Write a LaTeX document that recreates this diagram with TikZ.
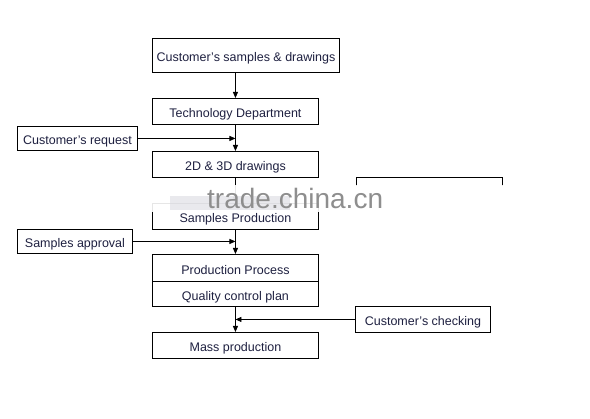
\documentclass[tikz,border=0pt]{standalone}
\usepackage{fontspec}
\setmainfont{Liberation Sans}
\usetikzlibrary{arrows.meta}
\definecolor{txt}{HTML}{1E2040}
\definecolor{wm}{HTML}{8E8E8E}
\begin{document}
\begin{tikzpicture}[x=1pt,y=-1pt,
  box/.style={draw=black,line width=0.9pt,inner sep=0pt,text=txt,font=\fontsize{12.5}{14}\selectfont,anchor=north west,text height=12.4pt,text depth=0pt},
  arr/.style={line width=0.9pt,-{Triangle[length=6pt,width=5pt]}},
  ln/.style={line width=0.9pt}]
\useasboundingbox (0,0) rectangle (590,419);
\fill[white] (0,0) rectangle (590,419);
\node[box,minimum width=187pt,minimum height=34pt] (b1) at (152,38) {Customer's samples \& drawings};
\node[box,minimum width=166pt,minimum height=26pt] (b2) at (152,98) {Technology Department};
\node[box,minimum width=120pt,minimum height=24pt] (req) at (17,126) {Customer's request};
\node[box,minimum width=166pt,minimum height=26pt] (b3) at (152,151) {2D \& 3D drawings};
\node[box,minimum width=166pt,minimum height=26pt] (b4) at (152,203) {Samples Production};
\node[box,minimum width=115pt,minimum height=24pt] (app) at (17,229) {Samples approval};
\node[box,minimum width=166pt,minimum height=27pt] (b5) at (152,254) {Production Process};
\node[box,minimum width=166pt,minimum height=25pt] (b6) at (152,281) {Quality control plan};
\node[box,minimum width=135pt,minimum height=26pt] (chk) at (355,306) {Customer's checking};
\node[box,minimum width=166pt,minimum height=26pt] (b7) at (152,332) {Mass production};
\coordinate (c0) at (b1.south -| b2.north);
\coordinate (c1) at (b2.south |- req.east);
\coordinate (c2) at (b4.south |- app.east);
\coordinate (c3) at (b6.south |- chk.west);
\draw[arr] (c0) -- (b2.north);
\draw[arr] (b2) -- (b3);
\draw[arr] (req) -- (c1);
\draw[arr] (b3) -- (b4);
\draw[arr] (b4) -- (b5);
\draw[arr] (app) -- (c2);
\draw[arr] (b6) -- (b7);
\draw[arr] (chk) -- (c3);
\coordinate (k1) at (356,186);
\coordinate (k2) at (502,186);
\draw[ln] (k1) -- (356,177) -- (502,177) -- (k2);
% watermark
\fill[white,opacity=0.9] (150,185) rectangle (512,212);
\fill[blue!10!gray!30,opacity=0.5] (170,196) rectangle (290,210);
\node[text=wm,font=\fontsize{28}{30}\selectfont,inner sep=0pt,text depth=0pt,anchor=base west] (wmk) at (207,209) {trade.china.cn};
\end{tikzpicture}
\end{document}
